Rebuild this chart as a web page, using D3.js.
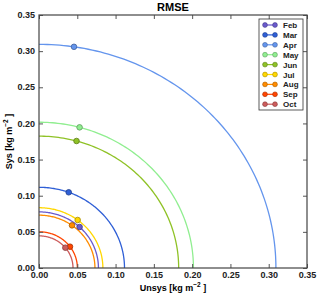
<!DOCTYPE html>
<html><head><meta charset="utf-8">
<script src="https://cdn.jsdelivr.net/npm/d3@7"></script>
<style>body{margin:0;background:#fff}text{font-family:"DejaVu Sans",sans-serif}</style>
</head><body><svg id="c" width="320" height="296"></svg>
<script>
const months = ["Feb","Mar","Apr","May","Jun","Jul","Aug","Sep","Oct"];
const unsys = [0.053,0.0388,0.0457,0.053,0.049,0.0505,0.0431,0.0405,0.0344];
const sys   = [0.0567,0.1047,0.306,0.1946,0.1757,0.0664,0.0590,0.0295,0.0281];
const colors = ["#6a5acd","#2f5fd6","#6495ed","#90ee90","#8fc226","#ffd700","#ff8c00","#ff4500","#cd5c5c"];
const ticks = [0,0.05,0.10,0.15,0.20,0.25,0.30,0.35];

const svg = d3.select("#c");
const L=39,R=307,T=15,B=268;
const x = d3.scaleLinear().domain([0,0.35]).range([L,R]);
const y = d3.scaleLinear().domain([0,0.35]).range([B,T]);
const fmt = d3.format(".2f");
const FF = "'Liberation Sans',Arial,sans-serif";

months.forEach((m,i)=>{
  const r = Math.hypot(unsys[i], sys[i]);
  const pts = d3.range(0,91).map(a=>[r*Math.cos(a*Math.PI/180), r*Math.sin(a*Math.PI/180)]);
  svg.append("path").attr("d", d3.line().x(d=>x(d[0])).y(d=>y(d[1]))(pts))
    .attr("fill","none").attr("stroke",colors[i]).attr("stroke-width",1.3);
});
months.forEach((m,i)=>{
  svg.append("circle").attr("cx",x(unsys[i])).attr("cy",y(sys[i])).attr("r",2.8)
    .attr("fill",colors[i]).attr("stroke",d3.color(colors[i]).darker(1.2)).attr("stroke-width",0.8);
});

const ax = svg.append("g").attr("transform",`translate(0,${B})`)
  .call(d3.axisBottom(x).tickValues(ticks).tickFormat(fmt).tickSizeInner(-4).tickSizeOuter(0));
const ay = svg.append("g").attr("transform",`translate(${L},0)`)
  .call(d3.axisLeft(y).tickValues(ticks).tickFormat(fmt).tickSizeInner(-4).tickSizeOuter(0));
svg.append("g").attr("transform",`translate(0,${T})`)
  .call(d3.axisTop(x).tickValues(ticks).tickFormat("").tickSizeInner(-4).tickSizeOuter(0));
svg.append("g").attr("transform",`translate(${R},0)`)
  .call(d3.axisRight(y).tickValues(ticks).tickFormat("").tickSizeInner(-4).tickSizeOuter(0));
svg.selectAll(".domain").remove();
svg.selectAll(".tick line").attr("stroke","#555");
ax.selectAll("text").attr("y",3).attr("dy","0.8em");
ay.selectAll("text").attr("x",-4).attr("dy","0.3em");
svg.selectAll(".tick text").attr("font-size",9).attr("font-weight","bold").attr("fill","#222")
  .style("font-family",FF);
svg.append("rect").attr("x",L).attr("y",T).attr("width",R-L).attr("height",B-T)
  .attr("fill","none").attr("stroke","#444").attr("stroke-width",1.2);

svg.append("text").attr("x",(L+R)/2).attr("y",11).attr("text-anchor","middle")
  .attr("font-size",11).attr("font-weight","bold").style("font-family",FF).text("RMSE");
const xl = svg.append("text").attr("x",(L+R)/2).attr("y",291).attr("text-anchor","middle")
  .attr("font-size",9).attr("font-weight","bold").style("font-family",FF);
xl.append("tspan").text("Unsys [kg m");
xl.append("tspan").attr("dy",-4).attr("font-size",6.5).text("−2");
xl.append("tspan").attr("dy",4).text(" ]");
const yl = svg.append("text").attr("transform",`translate(12,${(T+B)/2}) rotate(-90)`).attr("text-anchor","middle")
  .attr("font-size",9).attr("font-weight","bold").style("font-family",FF);
yl.append("tspan").text("Sys [kg m");
yl.append("tspan").attr("dy",-4).attr("font-size",6.5).text("−2");
yl.append("tspan").attr("dy",4).text(" ]");

const lg = svg.append("g").attr("transform","translate(259,19)");
lg.append("rect").attr("width",44).attr("height",91).attr("fill","#fff").attr("stroke","#333").attr("stroke-width",0.8);
months.forEach((m,i)=>{
  const yy = 6+i*9.9;
  lg.append("line").attr("x1",6).attr("x2",16).attr("y1",yy).attr("y2",yy).attr("stroke",colors[i]).attr("stroke-width",1.2);
  [6,16].forEach(cx=>lg.append("circle").attr("cx",cx).attr("cy",yy).attr("r",2.4)
    .attr("fill",colors[i]).attr("stroke",d3.color(colors[i]).darker(1.2)).attr("stroke-width",0.6));
  lg.append("text").attr("x",24).attr("y",yy+3).attr("font-size",8).attr("font-weight","bold")
    .style("font-family",FF).attr("fill","#222").text(m);
});
</script></body></html>
